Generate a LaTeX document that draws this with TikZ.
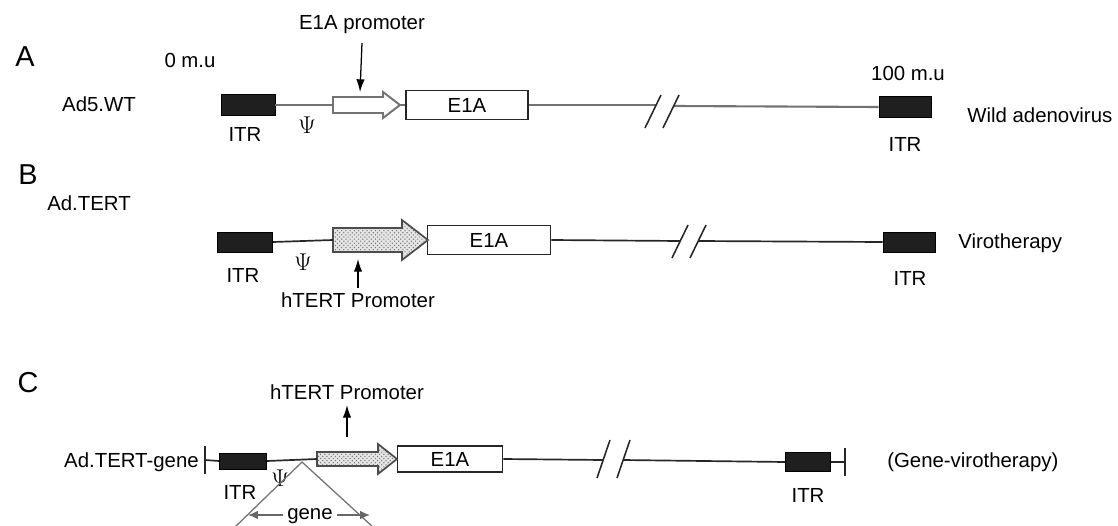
\documentclass[tikz,border=0pt]{standalone}
\usepackage{fontspec}
\setmainfont{Liberation Sans}
\usetikzlibrary{arrows.meta,patterns}
\tikzstyle{itr} = [
    rectangle,
    draw=black,
    fill=black!88,
    inner sep=0pt
]
\tikzstyle{orf} = [
    rectangle,
    draw=black!85,
    line width=1.3pt,
    fill=white,
    inner sep=0pt,
    font=\fontsize{14.5}{16}\selectfont
]
\tikzstyle{txt} = [
    inner sep=0pt,
    font=\fontsize{14.5}{16}\selectfont
]
\tikzstyle{psi} = [
    inner sep=0pt,
    font=\fontsize{16}{18}\selectfont
]
\tikzstyle{panel} = [
    inner sep=0pt,
    font=\fontsize{20.5}{23}\selectfont
]
\tikzstyle{backbone} = [
    line width=1.2pt,
    draw=black!85
]
\tikzstyle{wtbone} = [
    line width=1.5pt,
    draw=black!55
]
\tikzstyle{cut} = [
    line width=1.1pt,
    draw=black!85
]
\tikzstyle{pointer} = [
    -{Latex[length=9pt,width=6pt]},
    line width=0.9pt
]
\tikzstyle{openprom} = [
    draw=black!55,
    line width=1.4pt,
    fill=white
]
\tikzstyle{tertprom} = [
    draw=black!70,
    line width=1.2pt,
    preaction={fill=gray!20},
    pattern=crosshatch dots,
    pattern color=black!55
]
\tikzstyle{insert} = [
    line width=0.9pt,
    draw=black!55
]

\begin{document}
\begin{tikzpicture}[x=0.025cm, y=-0.025cm]
    \useasboundingbox (0,0) rectangle (1118,526);

    % A: wild type
    \node[panel] (labA) at (25,57) {A};
    \node[txt] (muL) at (190,60) {0 m.u};
    \node[txt] (muR) at (908,73) {100 m.u};
    \node[txt] (nameA) at (99,104) {Ad5.WT};
    \node[itr, minimum width=1.35cm, minimum height=0.525cm] (itrAL) at (248,105) {};
    \node[itr, minimum width=1.3cm, minimum height=0.525cm] (itrAR) at (905,107) {};
    \node[orf, minimum width=3.05cm, minimum height=0.725cm] (e1aA) at (467,105) {E1A};
    \coordinate (promAtail) at (333,105);
    \coordinate (promAtip) at (400,105);
    \draw[openprom] (333,97) -- (383,97) -- (383,92) -- (promAtip)
        -- (383,118) -- (383,113) -- (333,113) -- cycle;
    \coordinate (brkA1) at (656,105);
    \coordinate (brkA2) at (674,106);
    \draw[wtbone] (itrAL.east) -- (promAtail);
    \draw[wtbone] (promAtip) -- (e1aA.west);
    \draw[wtbone] (e1aA.east) -- (brkA1);
    \draw[wtbone] (brkA2) -- (itrAR.west);
    \draw[cut] (645,128) -- (661,95);
    \draw[cut] (663,128) -- (679,95);
    \node[txt] (itrAtxtL) at (245,134) {ITR};
    \node[txt] (itrAtxtR) at (905,144) {ITR};
    \node[psi] (psiA) at (307,125) {$\Psi$};
    \node[txt] (promAtxt) at (362,25) {E1A promoter};
    \coordinate (promAmark) at (360,92);
    \draw[pointer] (promAtxt) ++(0,18) coordinate (promAfrom) -- (promAmark);
    \node[txt, anchor=west] (virA) at (967,115) {Wild adenovirus};

    % B: oncolytic
    \node[panel] (labB) at (28,175) {B};
    \node[txt] (nameB) at (89,203) {Ad.TERT};
    \node[itr, minimum width=1.375cm, minimum height=0.5cm] (itrBL) at (245,242) {};
    \node[itr, minimum width=1.3cm, minimum height=0.5cm] (itrBR) at (909,242) {};
    \node[orf, minimum width=3.075cm, minimum height=0.725cm] (e1aB) at (489,240) {E1A};
    \coordinate (promBtail) at (333,240);
    \coordinate (promBtip) at (428,240);
    \draw[tertprom] (333,228) -- (402,228) -- (402,220) -- (promBtip)
        -- (402,260) -- (402,252) -- (333,252) -- cycle;
    \coordinate (brkB1) at (680,241);
    \coordinate (brkB2) at (698,241);
    \draw[backbone] (itrBL.east) -- (promBtail);
    \draw[backbone] (e1aB.east) -- (brkB1);
    \draw[backbone] (brkB2) -- (itrBR.west);
    \draw[cut] (672,258) -- (688,225);
    \draw[cut] (690,258) -- (706,225);
    \node[txt] (itrBtxtL) at (243,275) {ITR};
    \node[txt] (itrBtxtR) at (910,278) {ITR};
    \node[psi] (psiB) at (303,262) {$\Psi$};
    \node[txt] (promBtxt) at (358,300) {hTERT Promoter};
    \coordinate (promBmark) at (358,259);
    \draw[pointer] (promBtxt) ++(0,-12) coordinate (promBfrom) -- (promBmark);
    \node[txt, anchor=west] (virB) at (958,243) {Virotherapy};

    % C: armed oncolytic
    \node[panel] (labC) at (28,383) {C};
    \node[txt, anchor=east] (nameC) at (199,462) {Ad.TERT-gene};
    \coordinate (endL) at (205,460);
    \coordinate (endR) at (845,462);
    \node[itr, minimum width=1.175cm, minimum height=0.4cm] (itrCL) at (243,461) {};
    \node[itr, minimum width=1.125cm, minimum height=0.475cm] (itrCR) at (808,462) {};
    \node[orf, minimum width=2.625cm, minimum height=0.65cm] (e1aC) at (450,459) {E1A};
    \coordinate (promCtail) at (317,459);
    \coordinate (promCtip) at (397,459);
    \draw[tertprom] (317,452) -- (378,452) -- (378,444) -- (promCtip)
        -- (378,474) -- (378,466) -- (317,466) -- cycle;
    \coordinate (brkC1) at (603,460);
    \coordinate (brkC2) at (623,460);
    \draw[backbone] (endL) -- (itrCL.west);
    \draw[backbone] (itrCL.east) -- (promCtail);
    \draw[backbone] (e1aC.east) -- (brkC1);
    \draw[backbone] (brkC2) -- (itrCR.west);
    \draw[backbone] (itrCR.east) -- (endR);
    \draw[cut] ([yshift=-0.35cm]endL) -- ([yshift=0.35cm]endL);
    \draw[cut] ([yshift=-0.35cm]endR) -- ([yshift=0.35cm]endR);
    \draw[cut] (597,478) -- (610,440);
    \draw[cut] (617,478) -- (630,440);
    \node[txt] (itrCtxtL) at (240,492) {ITR};
    \node[txt] (itrCtxtR) at (808,495) {ITR};
    \node[psi] (psiC) at (280,478) {$\Psi$};
    \node[txt] (promCtxt) at (347,392) {hTERT Promoter};
    \coordinate (promCfrom) at (347,437);
    \draw[pointer] (promCfrom) -- (promCtxt.south |- 0,405);
    \node[txt, anchor=west] (virC) at (887,462) {(Gene-virotherapy)};

    % inserted gene
    \coordinate (ins) at (302,462);
    \coordinate (insL) at (234,528);
    \coordinate (insR) at (374,528);
    \draw[insert] (insL) -- (ins) -- (insR);
    \node[txt, anchor=base] (geneTxt) at (310,519) {gene};
    \coordinate (geneL) at (248,515);
    \coordinate (geneR) at (370,515);
    \draw[insert, -{Latex[length=7pt,width=6pt]}, draw=black!60] (geneTxt.west |- geneL) ++(-4,0) -- (geneL);
    \draw[insert, -{Latex[length=7pt,width=6pt]}, draw=black!60] (geneTxt.east |- geneR) ++(4,0) -- (geneR);
\end{tikzpicture}
\end{document}
